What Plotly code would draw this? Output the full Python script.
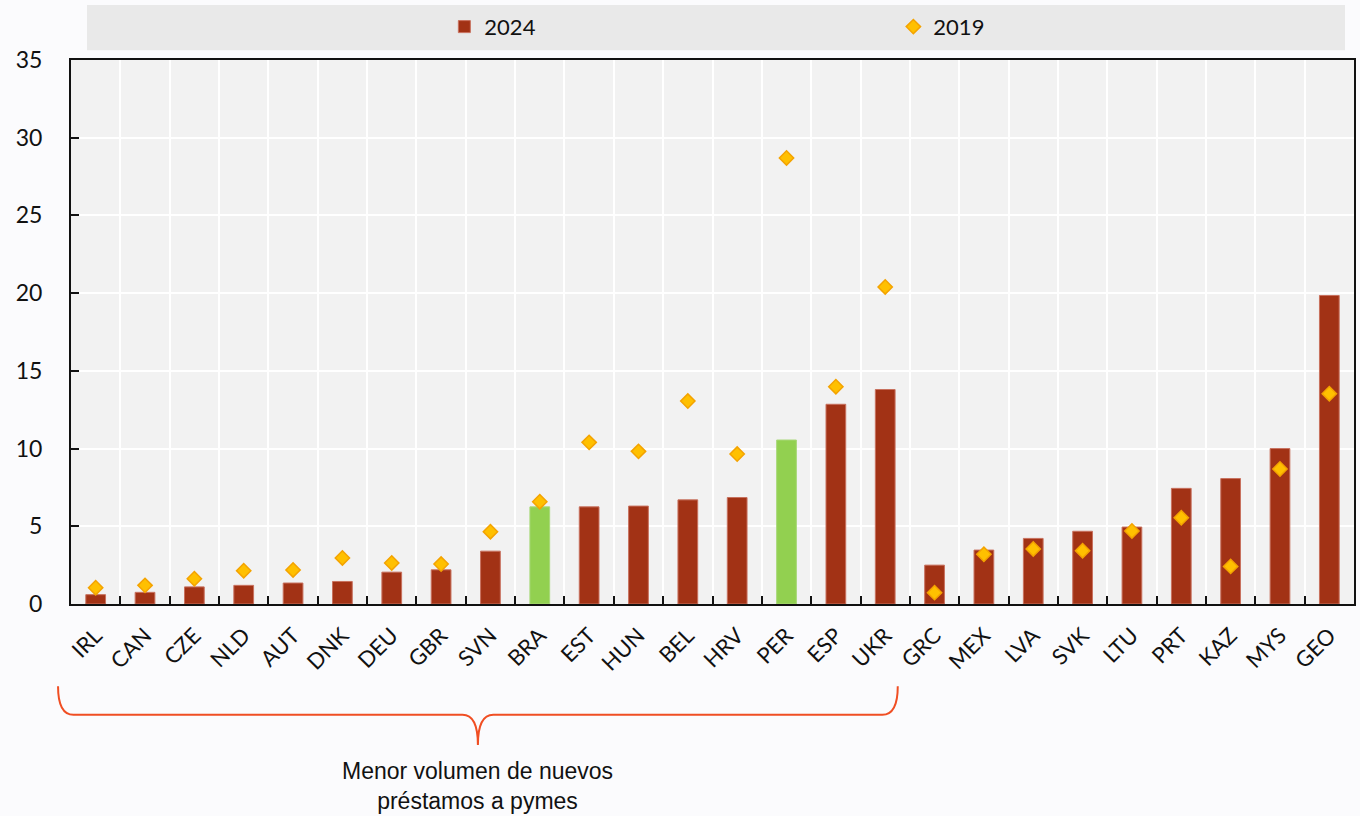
import plotly.graph_objects as go

countries = ["IRL","CAN","CZE","NLD","AUT","DNK","DEU","GBR","SVN","BRA","EST","HUN","BEL","HRV","PER","ESP","UKR",
             "GRC","MEX","LVA","SVK","LTU","PRT","KAZ","MYS","GEO"]
v2024 = [0.6,0.75,1.1,1.2,1.35,1.45,2.05,2.2,3.4,6.25,6.25,6.3,6.7,6.85,10.55,12.85,13.8,
         2.5,3.47,4.22,4.68,4.95,7.44,8.07,10.0,19.85]
v2019 = [1.05,1.2,1.63,2.14,2.19,2.96,2.64,2.57,4.65,6.58,10.4,9.82,13.06,9.65,28.7,13.98,20.4,
         0.73,3.2,3.54,3.43,4.7,5.55,2.42,8.69,13.53]
highlight = ["BRA","PER"]
yticks = [0,5,10,15,20,25,30,35]
bracket_label = "Menor volumen de nuevos<br>préstamos a pymes"

RED = "#A23215"
GREEN = "#92D050"
bar_colors = [GREEN if c in highlight else RED for c in countries]
bar_lines = ["#A8D878" if c in highlight else "#C8715E" for c in countries]

fig = go.Figure()
fig.add_trace(go.Bar(x=countries, y=v2024, name="2024", width=0.4,
                     marker=dict(color=bar_colors, line=dict(color=bar_lines, width=1))))
fig.add_trace(go.Scatter(x=countries, y=v2019, name="2019", mode="markers",
                         marker=dict(symbol="diamond", size=11, color="#FFC000",
                                     line=dict(color="#F4A300", width=1.5))))

# legend background band
fig.add_shape(type="rect", xref="paper", yref="paper", x0=0.0125, x1=0.993, y0=1.018, y1=1.101,
              fillcolor="#E9E9E9", line=dict(width=0), layer="below")

# curly bracket under the first 17 countries (paper coordinates)
xl, xr = -0.0101, 0.6444
xc = (xl + xr) / 2
yt, ym, yb = -0.151, -0.2035, -0.259
d = 0.012
path = (f"M {xl},{yt} Q {xl},{ym} {xl+d},{ym} L {xc-d},{ym} Q {xc},{ym} {xc},{yb} "
        f"Q {xc},{ym} {xc+d},{ym} L {xr-d},{ym} Q {xr},{ym} {xr},{yt}")
fig.add_shape(type="path", xref="paper", yref="paper", path=path,
              line=dict(color="#F04E23", width=2))
fig.add_annotation(x=xc, y=-0.28, xref="paper", yref="paper", text=bracket_label, showarrow=False,
                   xanchor="center", yanchor="top",
                   font=dict(family="Liberation Sans", size=23, color="#111111"),
                   align="center")

fig.update_layout(
    width=1360, height=816,
    margin=dict(l=71, r=4, t=60, b=212),
    paper_bgcolor="#FBFBFD",
    plot_bgcolor="#F2F2F2",
    font=dict(family="Lato", size=22, color="#111111"),
    showlegend=True,
    legend=dict(orientation="h", x=0.291, y=1.061, xanchor="left", yanchor="middle",
                bgcolor="rgba(0,0,0,0)", entrywidth=404, font=dict(size=22)),
    bargap=0.6,
)
fig.update_xaxes(type="category", tickson="boundaries", ticks="inside", ticklen=8, tickwidth=2,
                 tickcolor="#111111", showgrid=True, gridcolor="white", gridwidth=2,
                 showline=True, linecolor="#111111", linewidth=2, mirror=True,
                 tickangle=-45, tickfont=dict(size=22), ticklabelstandoff=8,
                 range=[-0.5, len(countries)-0.5])
fig.update_yaxes(range=[0, 35], tickvals=yticks, ticks="inside", ticklen=8, tickwidth=2,
                 tickcolor="#111111", showgrid=True, gridcolor="white", gridwidth=2,
                 showline=True, linecolor="#111111", linewidth=2, mirror=True,
                 zeroline=False, tickfont=dict(size=23), ticklabelstandoff=22)

fig.write_html("out.html", config={"displayModeBar": False},
               post_script="document.body.style.margin='0';document.body.style.overflow='hidden';")
